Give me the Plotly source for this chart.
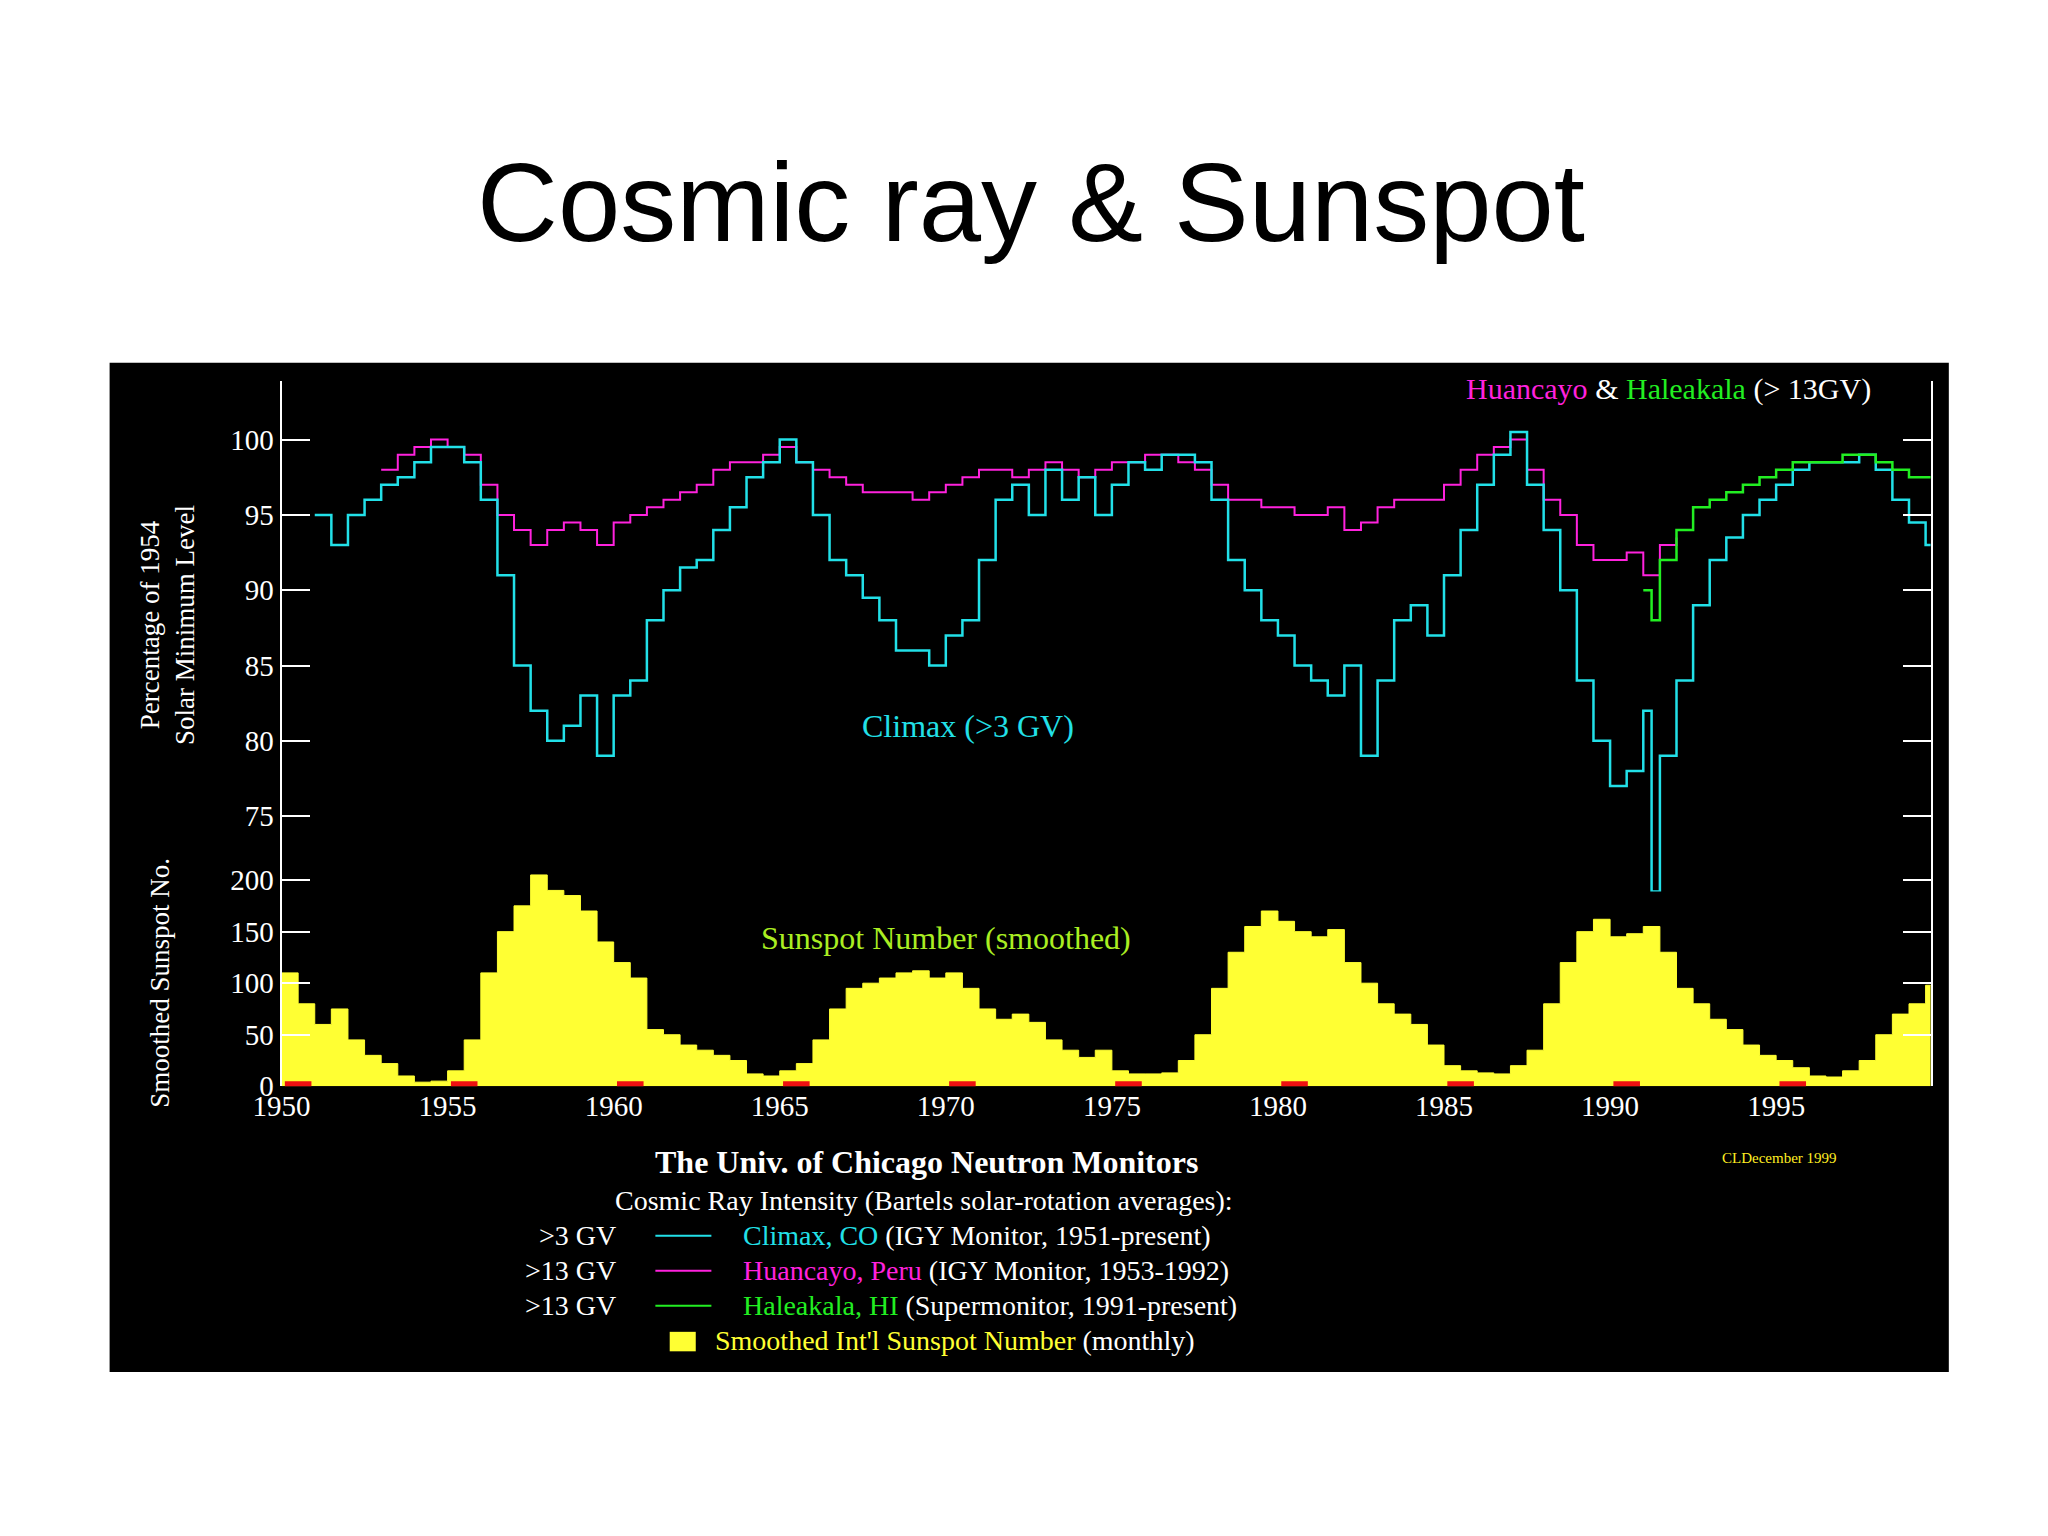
import plotly.graph_objects as go

# Climax neutron monitor (>3 GV), percent of 1954 solar minimum
climax_years = [1951.0, 1951.5, 1952.0, 1952.5, 1953.0, 1953.5, 1954.0, 1954.5, 1955.0, 1955.5,
                1956.0, 1956.5, 1957.0, 1957.5, 1958.0, 1958.5, 1959.0, 1959.5, 1960.0, 1960.5,
                1961.0, 1961.5, 1962.0, 1962.5, 1963.0, 1963.5, 1964.0, 1964.5, 1965.0, 1965.5,
                1966.0, 1966.5, 1967.0, 1967.5, 1968.0, 1968.5, 1969.0, 1969.5, 1970.0, 1970.5,
                1971.0, 1971.5, 1972.0, 1972.5, 1973.0, 1973.5, 1974.0, 1974.5, 1975.0, 1975.5,
                1976.0, 1976.5, 1977.0, 1977.5, 1978.0, 1978.5, 1979.0, 1979.5, 1980.0, 1980.5,
                1981.0, 1981.5, 1982.0, 1982.5, 1983.0, 1983.5, 1984.0, 1984.5, 1985.0, 1985.5,
                1986.0, 1986.5, 1987.0, 1987.5, 1988.0, 1988.5, 1989.0, 1989.5, 1990.0, 1990.5,
                1991.0, 1991.25, 1991.5, 1992.0, 1992.5, 1993.0, 1993.5, 1994.0, 1994.5, 1995.0,
                1995.5, 1996.0, 1996.5, 1997.0, 1997.5, 1998.0, 1998.5, 1999.0, 1999.5, 1999.8]
climax_vals = [95, 93, 95, 96, 97, 97.5, 98.5, 99.5, 99.5, 98.5,
               96, 91, 85, 82, 80, 81, 83, 79, 83, 84,
               88, 90, 91.5, 92, 94, 95.5, 97.5, 98.5, 100, 98.5,
               95, 92, 91, 89.5, 88, 86, 86, 85, 87, 88,
               92, 96, 97, 95, 98, 96, 97.5, 95, 97, 98.5,
               98, 99, 99, 98.5, 96, 92, 90, 88, 87, 85,
               84, 83, 85, 79, 84, 88, 89, 87, 91, 94,
               97, 99, 100.5, 97, 94, 90, 84, 80, 77, 78,
               82, 70, 79, 84, 89, 92, 93.5, 95, 96, 97,
               98, 98.5, 98.5, 98.5, 99, 98, 96, 94.5, 93, 90]

# Huancayo, Peru (>13 GV)
huancayo_years = [1953.0, 1953.5, 1954.0, 1954.5, 1955.0, 1955.5, 1956.0, 1956.5, 1957.0, 1957.5,
                  1958.0, 1958.5, 1959.0, 1959.5, 1960.0, 1960.5, 1961.0, 1961.5, 1962.0, 1962.5,
                  1963.0, 1963.5, 1964.0, 1964.5, 1965.0, 1965.5, 1966.0, 1966.5, 1967.0, 1967.5,
                  1968.0, 1968.5, 1969.0, 1969.5, 1970.0, 1970.5, 1971.0, 1971.5, 1972.0, 1972.5,
                  1973.0, 1973.5, 1974.0, 1974.5, 1975.0, 1975.5, 1976.0, 1976.5, 1977.0, 1977.5,
                  1978.0, 1978.5, 1979.0, 1979.5, 1980.0, 1980.5, 1981.0, 1981.5, 1982.0, 1982.5,
                  1983.0, 1983.5, 1984.0, 1984.5, 1985.0, 1985.5, 1986.0, 1986.5, 1987.0, 1987.5,
                  1988.0, 1988.5, 1989.0, 1989.5, 1990.0, 1990.5, 1991.0, 1991.5, 1992.0]
huancayo_vals = [98, 99, 99.5, 100, 99.5, 99, 97, 95, 94, 93,
                 94, 94.5, 94, 93, 94.5, 95, 95.5, 96, 96.5, 97,
                 98, 98.5, 98.5, 99, 99.5, 98.5, 98, 97.5, 97, 96.5,
                 96.5, 96.5, 96, 96.5, 97, 97.5, 98, 98, 97.5, 98,
                 98.5, 98, 97.5, 98, 98.5, 98.5, 99, 99, 98.5, 98,
                 97, 96, 96, 95.5, 95.5, 95, 95, 95.5, 94, 94.5,
                 95.5, 96, 96, 96, 97, 98, 99, 99.5, 100, 98,
                 96, 95, 93, 92, 92, 92.5, 91, 93, 93.5]

# Haleakala, HI (>13 GV)
haleakala_years = [1991.0, 1991.25, 1991.5, 1992.0, 1992.5, 1993.0, 1993.5, 1994.0, 1994.5, 1995.0,
                   1995.5, 1996.0, 1996.5, 1997.0, 1997.5, 1998.0, 1998.5, 1999.0, 1999.5, 1999.8]
haleakala_vals = [90, 88, 92, 94, 95.5, 96, 96.5, 97, 97.5, 98,
                  98.5, 98.5, 98.5, 99, 99, 98.5, 98, 97.5, 97.5, 97]

# Smoothed international sunspot number
sunspot_years = [1950.0, 1950.5, 1951.0, 1951.5, 1952.0, 1952.5, 1953.0, 1953.5, 1954.0, 1954.5,
                 1955.0, 1955.5, 1956.0, 1956.5, 1957.0, 1957.5, 1958.0, 1958.5, 1959.0, 1959.5,
                 1960.0, 1960.5, 1961.0, 1961.5, 1962.0, 1962.5, 1963.0, 1963.5, 1964.0, 1964.5,
                 1965.0, 1965.5, 1966.0, 1966.5, 1967.0, 1967.5, 1968.0, 1968.5, 1969.0, 1969.5,
                 1970.0, 1970.5, 1971.0, 1971.5, 1972.0, 1972.5, 1973.0, 1973.5, 1974.0, 1974.5,
                 1975.0, 1975.5, 1976.0, 1976.5, 1977.0, 1977.5, 1978.0, 1978.5, 1979.0, 1979.5,
                 1980.0, 1980.5, 1981.0, 1981.5, 1982.0, 1982.5, 1983.0, 1983.5, 1984.0, 1984.5,
                 1985.0, 1985.5, 1986.0, 1986.5, 1987.0, 1987.5, 1988.0, 1988.5, 1989.0, 1989.5,
                 1990.0, 1990.5, 1991.0, 1991.5, 1992.0, 1992.5, 1993.0, 1993.5, 1994.0, 1994.5,
                 1995.0, 1995.5, 1996.0, 1996.5, 1997.0, 1997.5, 1998.0, 1998.5, 1999.0, 1999.5, 1999.8]
sunspot_vals = [110, 80, 60, 75, 45, 30, 22, 10, 4, 5,
                15, 45, 110, 150, 175, 205, 190, 185, 170, 140,
                120, 105, 55, 50, 40, 35, 30, 25, 12, 10,
                15, 22, 45, 75, 95, 100, 105, 110, 112, 105,
                110, 95, 75, 65, 70, 62, 45, 35, 28, 35,
                15, 12, 12, 13, 25, 50, 95, 130, 155, 170,
                160, 150, 145, 152, 120, 100, 80, 70, 60, 40,
                20, 15, 13, 12, 20, 35, 80, 120, 150, 162,
                145, 148, 155, 130, 95, 80, 65, 55, 40, 30,
                25, 18, 10, 9, 15, 25, 50, 70, 80, 98, 95]

# solar minimum markers along the base
minimum_marks = [1950, 1955, 1960, 1965, 1970, 1975, 1980, 1985, 1990, 1995]

W, H = 1560, 1170  # reference layout units
def px(x): return x / W
def py(y): return 1 - y / H

SERIF = "Liberation Serif"
fig = go.Figure()

fig.add_trace(go.Scatter(x=sunspot_years, y=sunspot_vals, xaxis="x", yaxis="y2",
                         mode="lines", line=dict(color="#ffff33", width=1, shape="hv"),
                         fill="tozeroy", fillcolor="#ffff33"))
fig.add_trace(go.Scatter(x=huancayo_years, y=huancayo_vals, xaxis="x", yaxis="y",
                         mode="lines", line=dict(color="#ff22dd", width=2, shape="hv")))
fig.add_trace(go.Scatter(x=climax_years, y=climax_vals, xaxis="x", yaxis="y",
                         mode="lines", line=dict(color="#22e0e8", width=2.5, shape="hv")))
fig.add_trace(go.Scatter(x=haleakala_years, y=haleakala_vals, xaxis="x", yaxis="y",
                         mode="lines", line=dict(color="#22ee22", width=2.5, shape="hv")))

shapes = [dict(type="rect", xref="paper", yref="paper", x0=px(78), x1=px(1490),
               y0=py(1050), y1=py(273), fillcolor="black", line_width=0, layer="below")]
for yr in minimum_marks:
    shapes.append(dict(type="rect", xref="x", yref="y2", x0=yr + 0.1, x1=yr + 0.9,
                       y0=-5, y1=5, fillcolor="#ee1111", line_width=0))
# legend line samples
for row, col in zip([945, 972, 999], ["#22e0e8", "#ff22dd", "#22ee22"]):
    shapes.append(dict(type="line", xref="paper", yref="paper", x0=px(497), x1=px(540),
                       y0=py(row), y1=py(row), line=dict(color=col, width=2)))
shapes.append(dict(type="rect", xref="paper", yref="paper", x0=px(508), x1=px(528),
                   y0=py(1034), y1=py(1019), fillcolor="#ffff33", line_width=0))

tickfont = dict(family=SERIF, size=29, color="white")
axis_common = dict(showgrid=False, zeroline=False, showline=True, linecolor="white",
                   linewidth=2, ticks="inside", ticklen=28, tickcolor="white",
                   tickwidth=2, mirror="ticks", tickfont=tickfont, automargin=False)

def note(text, x, y, size=28, color="white", xanchor="center", **kw):
    return dict(text=text, x=px(x), y=py(y), xref="paper", yref="paper", showarrow=False,
                xanchor=xanchor, yanchor="middle",
                font=dict(family=SERIF, size=size, color=color), **kw)

annotations = [
    dict(text="Cosmic ray &amp; Sunspot", x=px(785), y=py(150), xref="paper", yref="paper",
         yanchor="middle", showarrow=False,
         font=dict(family="Liberation Sans", size=112, color="black")),
    note("<span style='color:#ff22dd'>Huancayo</span> &amp; "
         "<span style='color:#22ee22'>Haleakala</span> (&gt; 13GV)", 1432, 293, size=30,
         xanchor="right"),
    note("Climax (&gt;3 GV)", 737, 553, size=32, color="#22e0e8"),
    note("Sunspot Number (smoothed)", 720, 716, size=32, color="#aaee22"),
    note("Percentage of 1954<br>Solar Minimum Level", 122, 475, size=27, textangle=-90),
    note("Smoothed Sunspot No.", 117, 750, size=27, textangle=-90),
    note("<b>The Univ. of Chicago Neutron Monitors</b>", 705, 888, size=32),
    note("Cosmic Ray Intensity (Bartels solar-rotation averages):", 703, 918, size=28),
    note("&gt;3 GV", 468, 945, xanchor="right"),
    note("&gt;13 GV", 468, 972, xanchor="right"),
    note("&gt;13 GV", 468, 999, xanchor="right"),
    note("<span style='color:#22e0e8'>Climax, CO</span> (IGY Monitor, 1951-present)", 563, 945,
         xanchor="left"),
    note("<span style='color:#ff22dd'>Huancayo, Peru</span> (IGY Monitor, 1953-1992)", 563, 972,
         xanchor="left"),
    note("<span style='color:#22ee22'>Haleakala, HI</span> (Supermonitor, 1991-present)", 563, 999,
         xanchor="left"),
    note("<span style='color:#ffff33'>Smoothed Int'l Sunspot Number</span> (monthly)", 541, 1026,
         xanchor="left"),
    note("CLDecember 1999", 1360, 885, size=15, color="#ffee22"),
]

# top axis extends below 75 so the 1991 spike can reach into the lower panel
fig.update_layout(
    margin=dict(l=0, r=0, t=0, b=0, autoexpand=False),
    paper_bgcolor="white", plot_bgcolor="rgba(0,0,0,0)", showlegend=False,
    xaxis=dict(range=[1950, 1999.65], domain=[px(210), px(1476)], anchor="y2",
               tickvals=[1950, 1955, 1960, 1965, 1970, 1975, 1980, 1985, 1990, 1995],
               showgrid=False, zeroline=False, showline=False, ticks="",
               tickfont=tickfont, automargin=False),
    yaxis=dict(range=[70.0, 103.9], domain=[py(680), py(287)], anchor="x",
               tickvals=[75, 80, 85, 90, 95, 100], **axis_common),
    yaxis2=dict(range=[0, 218], domain=[py(830), py(657)], anchor="x",
                tickvals=[0, 50, 100, 150, 200], **axis_common),
    shapes=shapes, annotations=annotations,
)

fig.write_html("out.html", config=dict(responsive=True))
